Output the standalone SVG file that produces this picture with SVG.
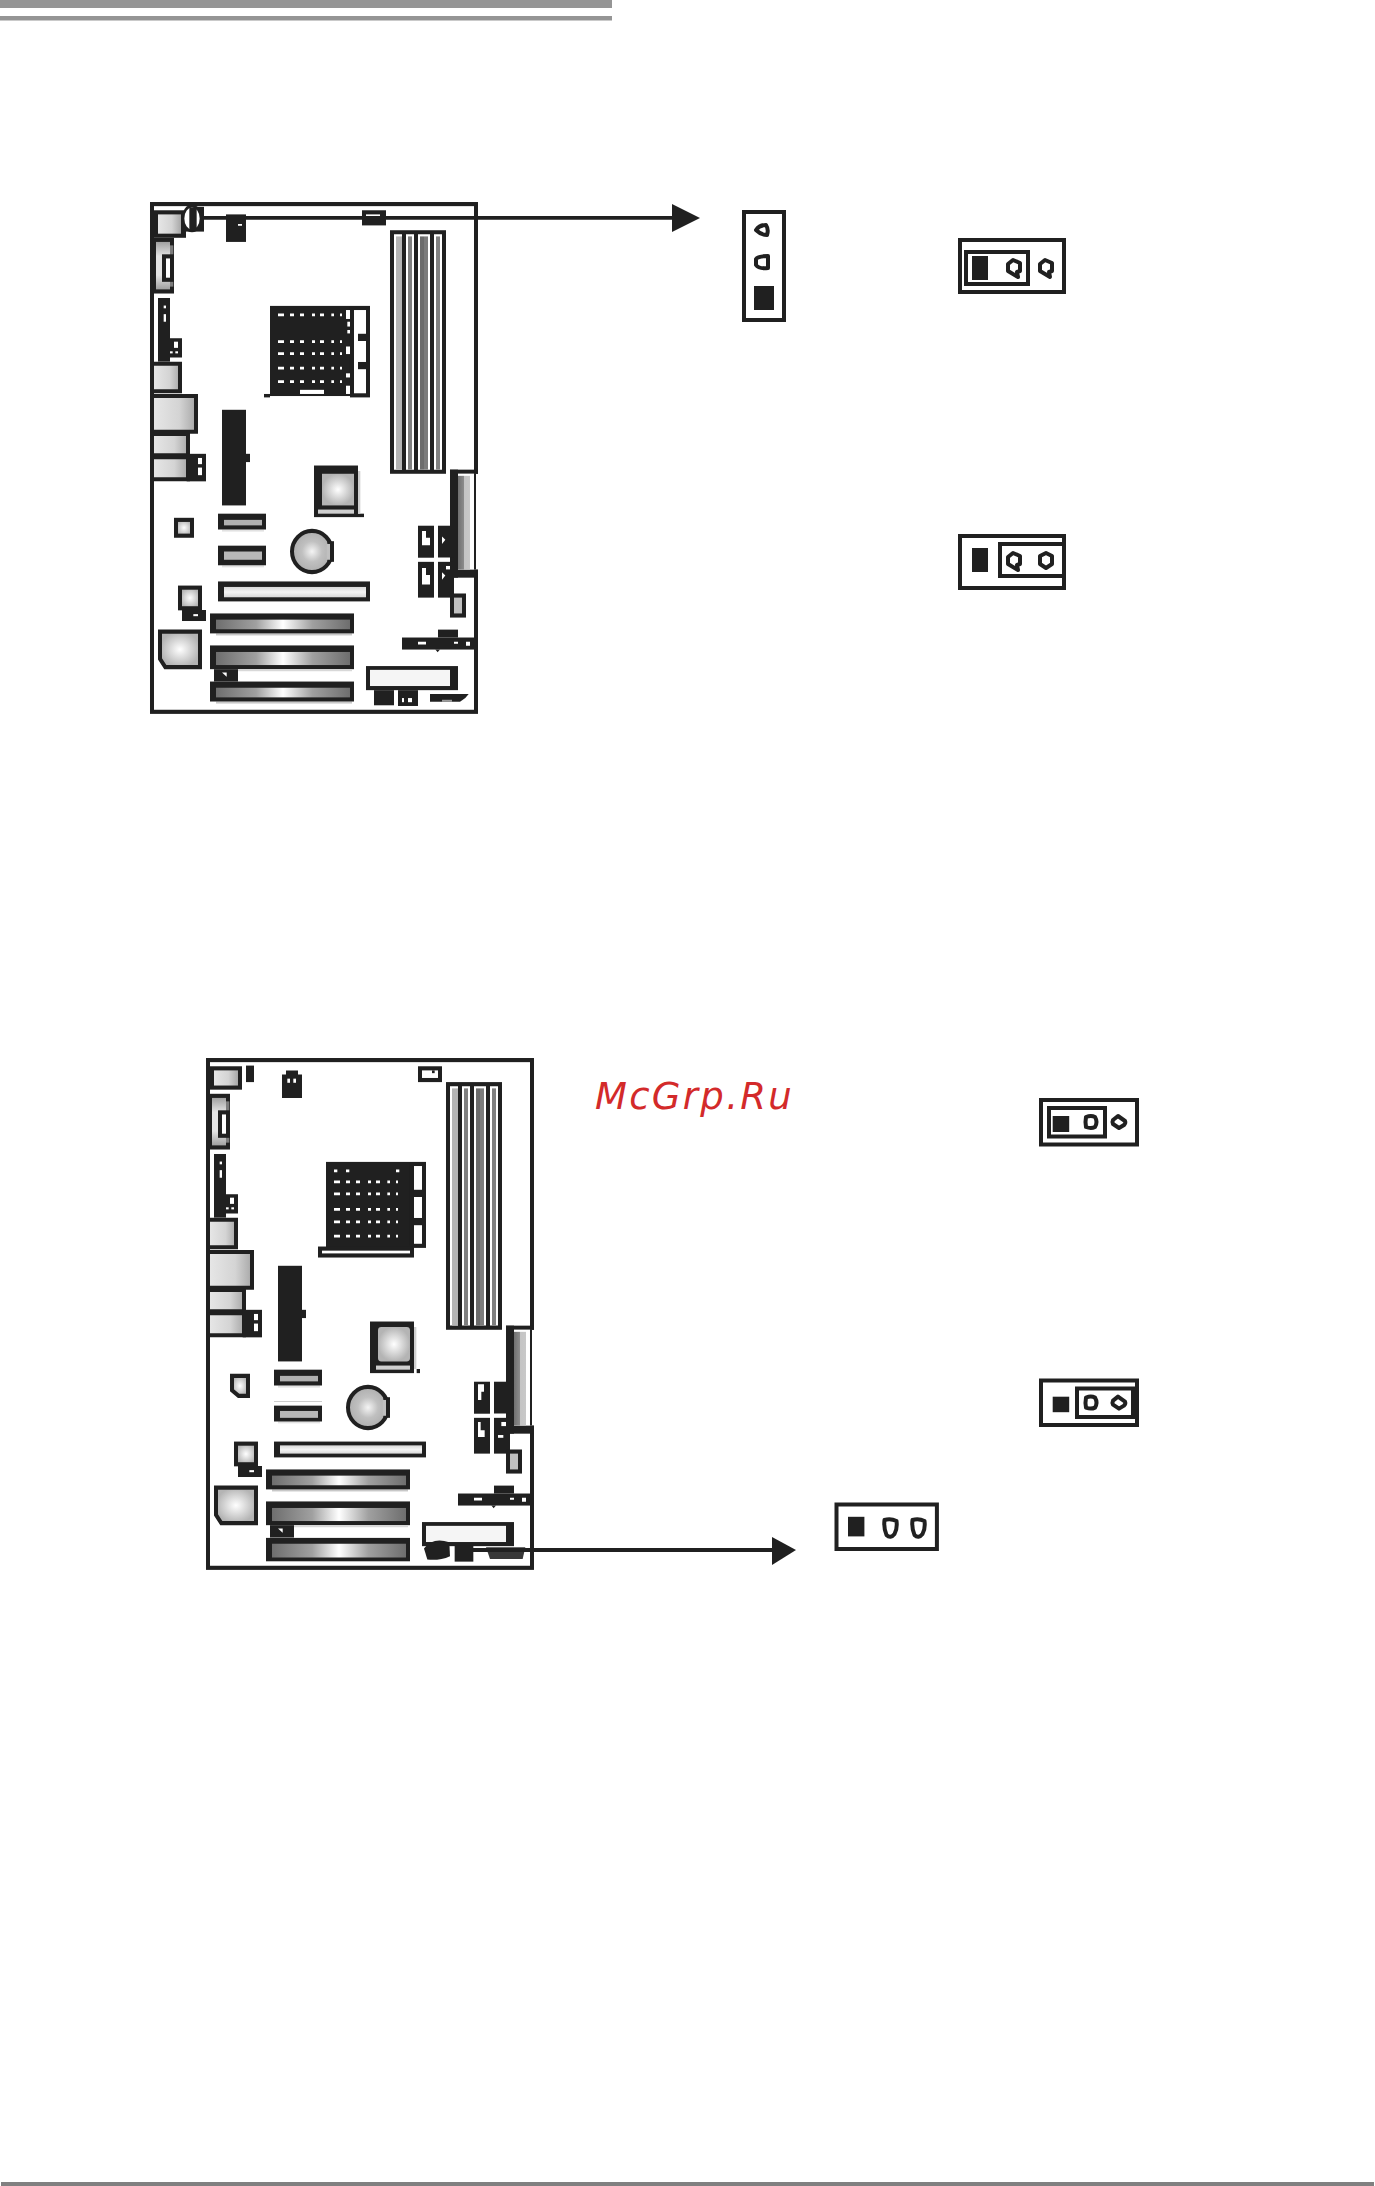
<svg xmlns="http://www.w3.org/2000/svg" width="1375" height="2186" viewBox="0 0 1375 2186">
<style>
.k{fill:#202020}
.w{fill:#fff}
.t{stroke:#202020;stroke-width:4;fill:#fff}
.p{stroke:#202020;stroke-width:4;fill:#fff;stroke-linejoin:round}
.line{stroke:#202020;stroke-width:3.800;fill:none}
.sh{fill:#e2e2e2}
.port{fill:url(#gPort);stroke:#202020;stroke-width:12}
.soft{fill:url(#gSoft);stroke:#202020;stroke-width:12}
text{font-family:"DejaVu Sans",sans-serif;font-style:italic;font-size:37px;fill:#d32a2a;letter-spacing:2.300px}
</style>
<defs>
<linearGradient id="gPci"><stop offset="0" stop-color="#6e6e6e"/><stop offset=".3" stop-color="#a0a0a0"/><stop offset=".5" stop-color="#fff"/><stop offset=".72" stop-color="#a0a0a0"/><stop offset="1" stop-color="#6e6e6e"/></linearGradient>
<linearGradient id="gPort"><stop offset="0" stop-color="#e6e6e6"/><stop offset=".6" stop-color="#d4d4d4"/><stop offset="1" stop-color="#a8a8a8"/></linearGradient>
<linearGradient id="gV" x2="0" y2="1"><stop offset="0" stop-color="#a0a0a0"/><stop offset=".3" stop-color="#e4e4e4"/><stop offset=".7" stop-color="#e4e4e4"/><stop offset="1" stop-color="#a0a0a0"/></linearGradient>
<linearGradient id="gL" x2="0" y2="1"><stop offset="0" stop-color="#d8d8d8"/><stop offset=".5" stop-color="#f4f4f4"/><stop offset="1" stop-color="#d8d8d8"/></linearGradient>
<linearGradient id="gIde"><stop offset="0" stop-color="#707070"/><stop offset=".5" stop-color="#8c8c8c"/><stop offset=".5" stop-color="#c4c4c4"/><stop offset="1" stop-color="#c8c8c8"/></linearGradient>
<radialGradient id="gSoft"><stop offset="0" stop-color="#fff"/><stop offset="1" stop-color="#b4b4b4"/></radialGradient>
<radialGradient id="gBat"><stop offset="0" stop-color="#f4f4f4"/><stop offset=".5" stop-color="#c0c0c0"/><stop offset="1" stop-color="#aeaeae"/></radialGradient>
<path id="dotrow" fill="#fff" d="M444,-4h18v8h-18zM480,-4h12v8h-12zM510,-4h12v8h-12zM546,-4h9v8h-9zM570,-4h12v8h-12zM604,-4h8v8h-8zM630,-4h6v8h-6z"/>
<path id="pin-a" d="M-1,-8 L6,-5 V3 L3,4 L4,9 L-6,3 V-4 Z"/>
<path id="pin-s" d="M0,-8 L6,-5 V3 L0,7 L-6,3 V-5 Z"/>
<path id="pin-o" d="M-5,-5 Q0,-7 4,-5 Q7,0 4,5 Q0,7 -5,5 Q-6,0 -5,-5Z"/>
<path id="pin-d" d="M-1,-6 L6,-1 Q7,1 5,3 L0,6 L-6,2 Q-7,0 -6,-2 Z"/>
<path id="pin-w" d="M-6,-8 Q0,-10 6,-7 Q7,1 4,6 Q0,11 -4,7 Q-7,0 -6,-8Z"/>
<g id="ram">
<rect x="780" y="146" width="168" height="708" class="k"/>
<path class="w" d="M792,158h24v684h-24zM828,158h24v684h-24zM864,158h36v684h-36zM912,158h24v684h-24z"/>
<rect x="798" y="164" width="18" height="678" fill="#b4b4b4"/>
<rect x="834" y="164" width="12" height="678" fill="#808080"/>
<rect x="870" y="164" width="12" height="678" fill="#6c6c6c"/><rect x="882" y="164" width="12" height="678" fill="#7c7c7c"/>
<rect x="918" y="164" width="12" height="678" fill="#808080"/>
</g>
<g id="board-common">
<rect x="66" y="70" width="972" height="1476" fill="#fff" stroke="#202020" stroke-width="12"/>
<!-- left edge -->
<rect x="72" y="168" width="60" height="162" class="k"/>
<rect x="78" y="180" width="42" height="138" fill="url(#gV)"/>
<rect x="120" y="190" width="10" height="120" fill="#d8d8d8" opacity=".5"/>
<rect x="96" y="216" width="36" height="80" class="k"/><rect x="108" y="228" width="12" height="56" class="w"/>
<rect x="84" y="343" width="36" height="185" class="k"/><rect x="101" y="365" width="7" height="8" class="w"/><rect x="101" y="390" width="7" height="22" class="w"/>
<rect x="120" y="460" width="36" height="56" class="k"/><rect x="132" y="470" width="12" height="18" class="w"/><rect x="120" y="498" width="8" height="6" class="w"/><rect x="136" y="498" width="8" height="6" class="w"/>
<path d="M72,534H150V614H72" class="port"/>
<path d="M72,628H198V732H72" class="port"/>
<path d="M72,738H174V800H72" class="port"/>
<path d="M72,806H174V870H72" class="port"/>
<rect x="170" y="796" width="58" height="80" class="k"/><rect x="204" y="808" width="12" height="18" class="w"/><rect x="204" y="836" width="12" height="22" class="w"/>
<!-- centre parts -->
<rect x="276" y="668" width="72" height="278" class="k"/><rect x="348" y="796" width="12" height="24" class="k"/>
<rect x="276" y="1016" width="126" height="6" class="sh"/><rect x="264" y="970" width="144" height="46" class="k"/><rect x="282" y="988" width="114" height="16" fill="#b0b0b0"/>
<rect x="276" y="1120" width="126" height="6" class="sh"/><rect x="264" y="1063" width="144" height="57" class="k"/><rect x="282" y="1080" width="114" height="24" fill="#b8b8b8"/>
<circle cx="546" cy="1080" r="60" fill="url(#gBat)" stroke="#202020" stroke-width="12"/>
<path d="M592,1050h20v60h-20z" class="k"/><path d="M590,1058h10v46h-10z" fill="#c0c0c0"/>
<rect x="258" y="1318" width="408" height="6" fill="#c8c8c8"/><rect x="240" y="1260" width="432" height="58" class="k"/><rect x="258" y="1278" width="402" height="28" fill="url(#gPci)"/>
<rect x="240" y="1353" width="432" height="69" class="k"/><rect x="258" y="1372" width="402" height="38" fill="url(#gPci)"/><rect x="324" y="1422" width="342" height="6" fill="#d8d8d8"/>
<rect x="252" y="1422" width="72" height="36" class="k"/><path d="M276,1432h14v12z" class="w"/>
<path d="M90,1313H210V1416H106L90,1392Z" class="soft"/>
<rect x="150" y="1185" width="60" height="60" class="soft"/>
<rect x="156" y="1250" width="72" height="32" class="k"/><rect x="190" y="1262" width="14" height="6" class="w"/>
<!-- right parts -->
<rect x="1032" y="854" width="14" height="282" class="w"/>
<rect x="960" y="842" width="84" height="12" class="k"/>
<rect x="960" y="842" width="24" height="314" class="k"/><rect x="960" y="1132" width="84" height="24" class="k"/>
<rect x="984" y="854" width="48" height="278" class="w"/>
<rect x="984" y="860" width="36" height="272" fill="url(#gIde)"/>
<rect x="1032" y="854" width="6" height="278" class="k"/>
<rect x="864" y="1005" width="48" height="93" class="k"/><rect x="864" y="1110" width="48" height="104" class="k"/>
<rect x="924" y="1005" width="48" height="93" class="k"/><rect x="924" y="1098" width="36" height="12" class="w"/><rect x="924" y="1110" width="48" height="104" class="k"/>
<rect x="960" y="1202" width="48" height="70" class="k"/><rect x="972" y="1214" width="24" height="46" fill="#c0c0c0"/>
<rect x="924" y="1307" width="60" height="23" class="k"/><rect x="816" y="1330" width="216" height="35" class="k"/>
<path d="M864,1342h24v8h-24zM972,1342h12v6h-12zM1008,1342h12v12h-12z" class="w"/>
<path d="M916,1365h14l-7,8z" class="k"/>
<rect x="708" y="1413" width="276" height="70" class="k"/><rect x="720" y="1424" width="240" height="47" fill="#f5f5f5"/>
</g>
</defs>
<g id="header-bars">
<rect x="0" y="0" width="612" height="8" fill="#959595"/>
<rect x="0" y="16" width="612" height="4.500" fill="#959595"/>
</g>
<rect id="footer-bar" x="1" y="2182" width="1373" height="4" fill="#808080"/>

<g id="board-a" transform="translate(130,180) scale(.33333,.344)">
<use href="#board-common"/>
<use href="#ram"/>
<rect x="72" y="88" width="96" height="80" class="k"/>
<rect x="84" y="100" width="69" height="56" fill="url(#gPort)"/>
<rect x="168" y="78" width="54" height="72" class="k"/>
<ellipse cx="186" cy="112" rx="27" ry="36" fill="#fff" stroke="#202020" stroke-width="8"/>
<rect x="178" y="80" width="22" height="66" class="k"/>
<rect x="288" y="100" width="60" height="80" class="k"/><rect x="324" y="128" width="12" height="5" class="w"/>
<rect x="696" y="88" width="72" height="44" class="k"/><rect x="708" y="100" width="42" height="6" class="w"/>
<!-- slots -->
<rect x="264" y="1167" width="456" height="58" class="k"/><rect x="282" y="1183" width="426" height="30" fill="url(#gL)"/>
<rect x="258" y="1516" width="408" height="6" fill="#c8c8c8"/><rect x="240" y="1458" width="432" height="58" class="k"/><rect x="258" y="1476" width="402" height="28" fill="url(#gPci)"/>
<!-- socket -->
<rect x="420" y="366" width="240" height="262" class="k"/>
<rect x="666" y="372" width="48" height="254" class="w" stroke="#202020" stroke-width="12"/>
<rect x="684" y="447" width="30" height="21" class="k"/><rect x="684" y="529" width="30" height="21" class="k"/>
<rect x="648" y="378" width="12" height="26" class="w"/><rect x="652" y="412" width="8" height="14" class="w"/><rect x="652" y="436" width="8" height="10" class="w"/><rect x="648" y="484" width="12" height="22" class="w"/><rect x="648" y="562" width="12" height="12" class="w"/><rect x="648" y="598" width="12" height="24" class="w"/>
<use href="#dotrow" y="392"/><use href="#dotrow" y="470"/><use href="#dotrow" y="505"/><use href="#dotrow" y="547"/><use href="#dotrow" y="586"/>
<rect x="510" y="610" width="72" height="12" class="w"/>
<rect x="402" y="622" width="18" height="10" class="k"/>
<!-- north bridge -->
<rect x="552" y="830" width="132" height="150" class="k"/>
<rect x="576" y="854" width="96" height="92" fill="url(#gSoft)"/>
<rect x="564" y="958" width="108" height="12" fill="#cfcfcf"/>
<rect x="684" y="970" width="18" height="10" class="k"/>
<rect x="684" y="846" width="7" height="124" fill="#d0d0d0"/>
<rect x="138" y="988" width="48" height="46" class="soft"/>
<!-- bottom right -->
<rect x="732" y="1483" width="60" height="44" class="k"/>
<rect x="804" y="1483" width="60" height="46" class="k"/><rect x="816" y="1506" width="6" height="12" class="w"/><rect x="834" y="1506" width="12" height="12" class="w"/>
<path d="M900,1494H1016L1006,1506L990,1517L980,1517H900Z" class="k"/><rect x="936" y="1511" width="30" height="6" fill="#9c9c9c"/>
<path d="M876,1020h12v20h12v22h-24z" class="w"/>
<path d="M876,1128h12v20h12v28h-24z" class="w"/>
<path d="M936,1036l10,10l-10,12z" class="w"/><path d="M936,1140l10,10l-10,12z" class="w"/><rect x="948" y="1122" width="12" height="10" class="w"/>
</g>

<g id="board-b" transform="translate(186,1036) scale(.33333,.344)">
<use href="#board-common"/>
<use href="#ram" transform="translate(0,-14.500) scale(1,1.017)"/>
<rect x="72" y="88" width="96" height="68" class="k"/>
<rect x="84" y="100" width="72" height="44" fill="url(#gPort)"/>
<rect x="180" y="86" width="24" height="48" class="k"/>
<path d="M288,112h12v-12h36v12h12v68h-60z" class="k"/><rect x="304" y="124" width="8" height="12" class="w"/><rect x="322" y="124" width="8" height="12" class="w"/>
<rect x="696" y="88" width="72" height="46" class="k"/><rect x="708" y="100" width="48" height="22" class="w"/><rect x="738" y="100" width="8" height="8" class="k"/>
<!-- slots -->
<rect x="264" y="1063" width="144" height="12" class="w"/><rect x="264" y="1075" width="144" height="45" class="k"/><rect x="282" y="1090" width="114" height="20" fill="#b8b8b8"/>
<rect x="264" y="1179" width="456" height="46" class="k"/><rect x="282" y="1190" width="426" height="24" fill="url(#gL)"/>
<rect x="240" y="1459" width="432" height="68" class="k"/><rect x="258" y="1476" width="402" height="40" fill="url(#gPci)"/>
<!-- socket -->
<rect x="420" y="366" width="252" height="250" class="k"/>
<rect x="678" y="372" width="36" height="238" class="w" stroke="#202020" stroke-width="12"/>
<rect x="672" y="372" width="12" height="238" class="k"/>
<rect x="684" y="447" width="30" height="21" class="k"/><rect x="684" y="529" width="30" height="21" class="k"/>
<use href="#dotrow" y="424"/><use href="#dotrow" y="459"/><use href="#dotrow" y="504"/><use href="#dotrow" y="540"/><use href="#dotrow" y="582"/>
<path d="M444,388h10v8h-10zM480,388h10v8h-10zM630,388h10v8h-10z" class="w"/>
<rect x="402" y="618" width="276" height="20" class="w" stroke="#202020" stroke-width="12"/>
<!-- north bridge -->
<rect x="552" y="830" width="132" height="150" class="k"/>
<rect x="576" y="846" width="96" height="100" rx="10" fill="url(#gSoft)"/>
<rect x="570" y="958" width="102" height="12" fill="#cfcfcf"/>
<rect x="684" y="846" width="7" height="122" fill="#d0d0d0"/>
<rect x="692" y="968" width="10" height="12" class="k"/>
<path d="M138,988H186V1046H158L138,1030Z" class="soft"/>
<!-- bottom right -->
<path d="M714,1490 Q740,1456 790,1472 L792,1512 Q760,1526 724,1522Z" class="k"/>
<rect x="806" y="1482" width="56" height="46" class="k"/>
<path d="M900,1486H1018L1010,1520H912Z" fill="#383838"/>
<path d="M876,1012h18v22h-8v24h-10z" class="w"/>
<path d="M876,1122h8v24h12v20h-20z" class="w"/>
<rect x="946" y="1122" width="14" height="12" class="w"/><rect x="936" y="1160" width="16" height="8" class="w"/>
</g>

<g id="connectors">
<line class="line" x1="204" y1="217.800" x2="674" y2="217.800"/>
<path class="k" d="M672,204L700,218L672,232Z"/>
<line class="line" x1="473" y1="1550" x2="775" y2="1550"/>
<path class="k" d="M772,1537L796,1550L772,1565Z"/>
</g>

<g id="jumper-a1">
<rect class="t" x="744" y="212" width="40" height="108"/>
<path class="p" transform="translate(762,230)" d="M4,-5 C6,-2 6,2 5,5 C1,5 -3,3 -6,0 C-4,-3 0,-5 4,-5Z"/>
<path class="p" transform="translate(762,262)" d="M-6,-3 C-4,-6 2,-6 6,-6 L6,6 C2,6.500 -4,6 -6,3Z"/>
<rect class="k" x="754" y="286" width="20" height="24"/>
</g>
<g id="jumper-a2">
<rect class="t" x="960" y="240" width="104" height="52"/>
<rect class="t" x="966" y="252" width="62" height="32"/>
<rect class="k" x="972" y="256" width="16" height="24"/>
<use href="#pin-a" class="p" x="1014" y="268"/>
<use href="#pin-a" class="p" x="1046" y="268"/>
</g>
<g id="jumper-a3">
<rect class="t" x="960" y="536" width="104" height="52"/>
<rect class="t" x="1000" y="544" width="64" height="32"/>
<rect class="k" x="972" y="548" width="16" height="24"/>
<use href="#pin-a" class="p" x="1014" y="561"/>
<use href="#pin-s" class="p" x="1046" y="561"/>
</g>
<g id="jumper-b1">
<rect class="t" x="1041" y="1100" width="96" height="44.500"/>
<rect class="t" x="1049" y="1108" width="56" height="28.500"/>
<rect class="k" x="1052.700" y="1116" width="16.500" height="16"/>
<use href="#pin-o" class="p" x="1091" y="1122"/>
<use href="#pin-d" class="p" x="1119" y="1122"/>
</g>
<g id="jumper-b2">
<rect class="t" x="1041" y="1380.500" width="96" height="44.500"/>
<rect class="t" x="1077" y="1388.500" width="56" height="28.500"/>
<rect class="k" x="1052.700" y="1396.700" width="16.500" height="15.500"/>
<use href="#pin-o" class="p" x="1091" y="1402.600"/>
<use href="#pin-d" class="p" x="1119" y="1402.600"/>
</g>
<g id="jumper-b3">
<rect class="t" x="836.500" y="1504.500" width="100.400" height="44.500"/>
<rect class="k" x="848" y="1516.800" width="16.400" height="19.600"/>
<use href="#pin-w" class="p" x="890.500" y="1528"/>
<use href="#pin-w" class="p" x="918.500" y="1528"/>
</g>
<text id="watermark" x="595" y="1109">McGrp.Ru</text>
</svg>
